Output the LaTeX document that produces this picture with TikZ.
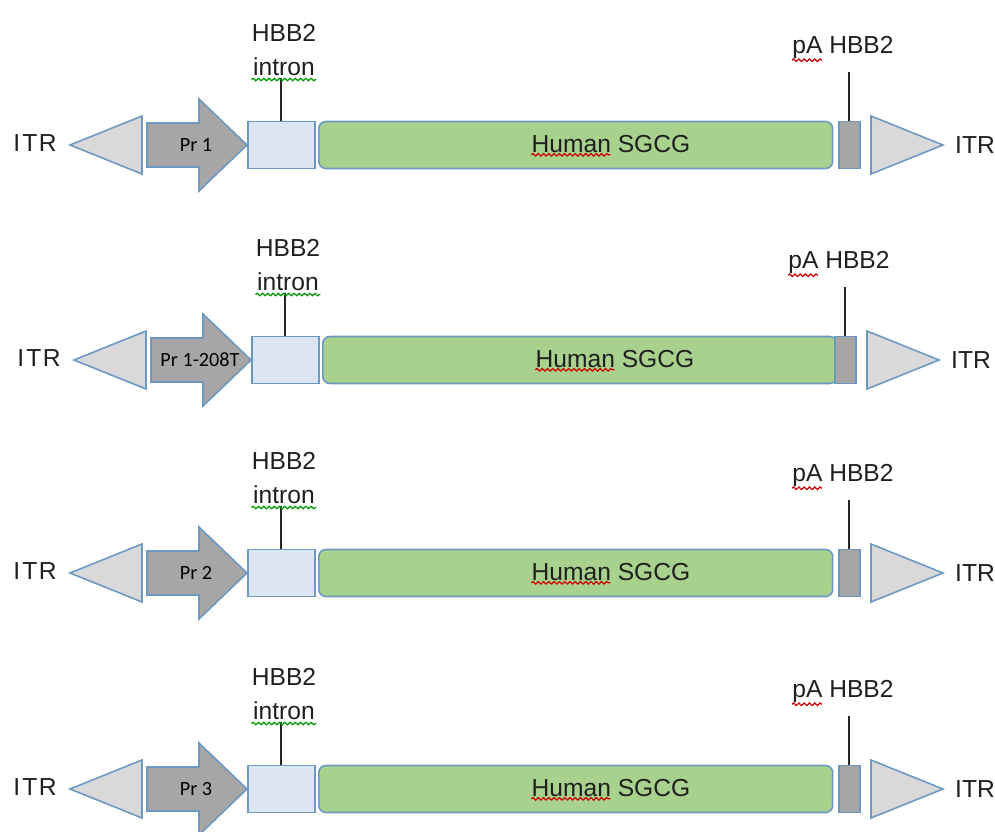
\documentclass[tikz,border=0pt]{standalone}
\usepackage{fontspec}
\setmainfont{Liberation Sans}
\newfontfamily\prfont{Carlito}
\usetikzlibrary{decorations.pathmorphing}

\definecolor{edgeblue}{HTML}{6E98C4}
\definecolor{itrgray}{HTML}{D9D9D9}
\definecolor{prgray}{HTML}{A6A6A6}
\definecolor{intronblue}{HTML}{DCE6F2}
\definecolor{genegreen}{HTML}{A9D18E}

\tikzset{
  elem/.style={draw=edgeblue, line width=0.9pt},
  box/.style={elem, minimum height=0.94cm, inner sep=0pt, anchor=west},
  lbl/.style={font=\fontsize{14}{19.3}\selectfont, text=black!88, inner sep=0pt},
  prlbl/.style={font=\prfont\fontsize{11.5}{13}\selectfont, inner sep=0pt},
  tick/.style={black!85, line width=1pt},
  spell/.style={line width=0.7pt, decorate, decoration={snake, amplitude=0.7pt, segment length=3pt}}
}

\begin{document}
\begin{tikzpicture}[x=0.02cm, y=-0.02cm]
\useasboundingbox (0,0) rectangle (995,832);
\foreach \r/\yc/\dl/\dr/\pr in {1/145/0/0/Pr 1, 2/360/4/-4/Pr 1-208T, 3/573/0/0/Pr 2, 4/789/0/0/Pr 3} {
  % ITR ends
  \draw[elem, fill=itrgray] (142+\dl,\yc-29) -- (70+\dl,\yc) -- (142+\dl,\yc+29) -- cycle;
  \draw[elem, fill=itrgray] (871+\dr,\yc-29) -- (943+\dr,\yc) -- (871+\dr,\yc+29) -- cycle;
  \node[lbl] (itrL\r) at (35+\dl,\yc-2) {I\kern1.2pt T\kern0.8pt R};
  \node[lbl] (itrR\r) at (975+\dr,\yc) {ITR};
  % promoter
  \draw[elem, fill=prgray] (147+\dl,\yc-22) -- (199+\dl,\yc-22) -- (199+\dl,\yc-46) -- (247+\dl,\yc)
    -- (199+\dl,\yc+46) -- (199+\dl,\yc+22) -- (147+\dl,\yc+22) -- cycle;
  \node[prlbl] (pr\r) at (196+\dl,\yc) {\pr};
  % intron, gene, polyA
  \node[box, fill=intronblue, minimum width=1.34cm] (intron\r) at (247+\dl,\yc) {};
  \node[box, fill=genegreen, minimum width=10.28cm, rounded corners=4pt] (gene\r) at (318+\dl,\yc) {};
  \node[box, fill=prgray, minimum width=0.42cm] (pa\r) at (838+\dr,\yc) {};
  \node[lbl] (sgcg\r) at (611+\dl,\yc-1) {Human SGCG};
  % labels above
  \node[lbl, align=center] (intronlbl\r) at (284+\dl,\yc-95) {HBB2\\intron};
  \node[lbl] (palbl\r) at (843+\dr,\yc-98) {pA HBB2};
  \draw[tick] (intron\r.north) -- ++(0,-43) coordinate (introntop\r);
  \draw[tick] (pa\r.north) -- ++(0,-49) coordinate (patop\r);
  % spell-check marks
  \draw[spell, green!60!black] ([yshift=-2pt]intronlbl\r.south west) -- ([yshift=-2pt]intronlbl\r.south east);
  \draw[spell, red!80!black] ([yshift=-1pt]palbl\r.south west) -- ([xshift=17pt, yshift=-1pt]palbl\r.south west);
  \draw[spell, red!80!black] ([yshift=-1pt]sgcg\r.south west) -- ([xshift=45pt, yshift=-1pt]sgcg\r.south west);
}
\end{tikzpicture}
\end{document}
